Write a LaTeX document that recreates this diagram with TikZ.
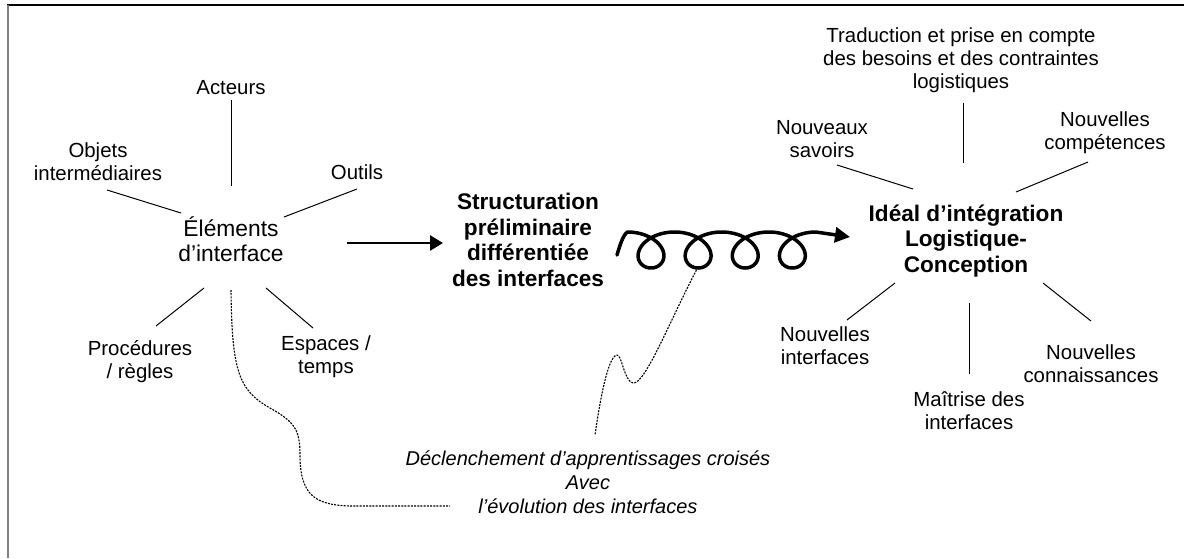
\documentclass[tikz,border=0pt]{standalone}
\usepackage{fontspec}
\setmainfont{Liberation Sans}
\usetikzlibrary{arrows.meta}
\begin{document}
\begin{tikzpicture}[x=0.5pt,y=-0.5pt,
  lbl/.style={align=center,font=\fontsize{10.2}{11.5}\selectfont,inner sep=0pt},
  biglbl/.style={align=center,font=\fontsize{11.4}{12.6}\selectfont,inner sep=0pt},
  boldlbl/.style={align=center,font=\fontsize{11.3}{12.8}\selectfont\bfseries,inner sep=0pt},
  itallbl/.style={align=center,font=\fontsize{10}{12}\selectfont\itshape,inner sep=0pt},
  ray/.style={line width=0.5pt},
  dashlink/.style={line width=0.55pt,dash pattern=on 1pt off 0.6pt},
  bigarrow/.style={line width=1.35pt,-{Triangle[length=6.5pt,width=7.5pt]}},
  coil/.style={line width=1.75pt,line join=round,line cap=round,-{Triangle[length=7.5pt,width=7.5pt]}},
  topframe/.style={line width=0.8pt},
  leftframe/.style={line width=1pt,color=black!50}
]
\useasboundingbox (0,0) rectangle (1184,558);
% frame
\coordinate (f1) at (7,5);
\coordinate (f2) at (1184,5);
\coordinate (f3) at (8,5);
\coordinate (f4) at (8,558);
\draw[topframe] (f1) -- (f2);
\draw[leftframe] (f3) -- (f4);

% left cluster
\node[lbl] (acteurs) at (231,88) {Acteurs};
\node[lbl] (objets) at (98,162) {Objets\\intermédiaires};
\node[lbl] (outils) at (357,172) {Outils};
\node[biglbl] (elements) at (231,239) {Éléments\\d’interface};
\node[lbl] (procedures) at (140,362) {Procédures\\/ règles};
\node[lbl] (espaces) at (326,357) {Espaces /\\temps};

\coordinate (a1) at (231,100); \coordinate (a2) at (231,186);
\coordinate (o1) at (107,190); \coordinate (o2) at (181,213);
\coordinate (u1) at (357,189); \coordinate (u2) at (284,217);
\coordinate (p1) at (204,288); \coordinate (p2) at (156,326);
\coordinate (e1) at (266,288); \coordinate (e2) at (313,328);
\draw[ray] (a1) -- (a2);
\draw[ray] (o1) -- (o2);
\draw[ray] (u1) -- (u2);
\draw[ray] (p1) -- (p2);
\draw[ray] (e1) -- (e2);

% middle
\node[boldlbl] (struct) at (528,240) {Structuration\\préliminaire\\différentiée\\des interfaces};
\coordinate (ar1) at (347,243); \coordinate (ar2) at (443,243);
\draw[bigarrow] (ar1) -- (ar2);

% coil arrow
\coordinate (c0) at (617,255);
\coordinate (cend) at (850,237);
\draw[coil] (c0) .. controls (620,245) and (623,235) .. (627.4,232)
  -- plot[domain=-3.1416:21.991, samples=300, smooth] ({651+7.5*\x-23.5*sin(\x r)},{250+18*cos(\x r)})
  -- (cend);

% right cluster
\node[boldlbl] (ideal) at (966,241) {Idéal d’intégration\\Logistique-\\Conception};
\node[lbl] (traduction) at (961,60) {Traduction et prise en compte\\des besoins et des contraintes\\logistiques};
\node[lbl] (savoirs) at (822,139) {Nouveaux\\savoirs};
\node[lbl] (competences) at (1105,133) {Nouvelles\\compétences};
\node[lbl] (ninterfaces) at (825,346) {Nouvelles\\interfaces};
\node[lbl] (maitrise) at (969,411) {Maîtrise des\\interfaces};
\node[lbl] (connaissances) at (1091,364) {Nouvelles\\connaissances};

\coordinate (t1) at (963,103); \coordinate (t2) at (963,163);
\coordinate (s1) at (837,165); \coordinate (s2) at (913,189);
\coordinate (k1) at (1088,162); \coordinate (k2) at (1016,192);
\coordinate (n1) at (895,283); \coordinate (n2) at (847,320);
\coordinate (m1) at (969,303); \coordinate (m2) at (969,374);
\coordinate (q1) at (1043,283); \coordinate (q2) at (1091,321);
\draw[ray] (t1) -- (t2);
\draw[ray] (s1) -- (s2);
\draw[ray] (k1) -- (k2);
\draw[ray] (n1) -- (n2);
\draw[ray] (m1) -- (m2);
\draw[ray] (q1) -- (q2);

% bottom note
\node[itallbl] (declench) at (588,482) {Déclenchement d’apprentissages croisés\\Avec\\l’évolution des interfaces};

\coordinate (d1) at (231,290);
\coordinate (d2) at (450,506);
\draw[dashlink] (d1) .. controls (232,370) and (238,390) .. (270,408)
  .. controls (295,422) and (300,430) .. (300,455)
  .. controls (300,495) and (315,505) .. (350,506) -- (d2);

\coordinate (g1) at (698,267);
\coordinate (g2) at (595,435);
\draw[dashlink] (g1) .. controls (670,320) and (645,385) .. (633,383)
  .. controls (624,381) and (622,355) .. (617,355)
  .. controls (608,356) and (600,400) .. (g2);
\end{tikzpicture}
\end{document}
